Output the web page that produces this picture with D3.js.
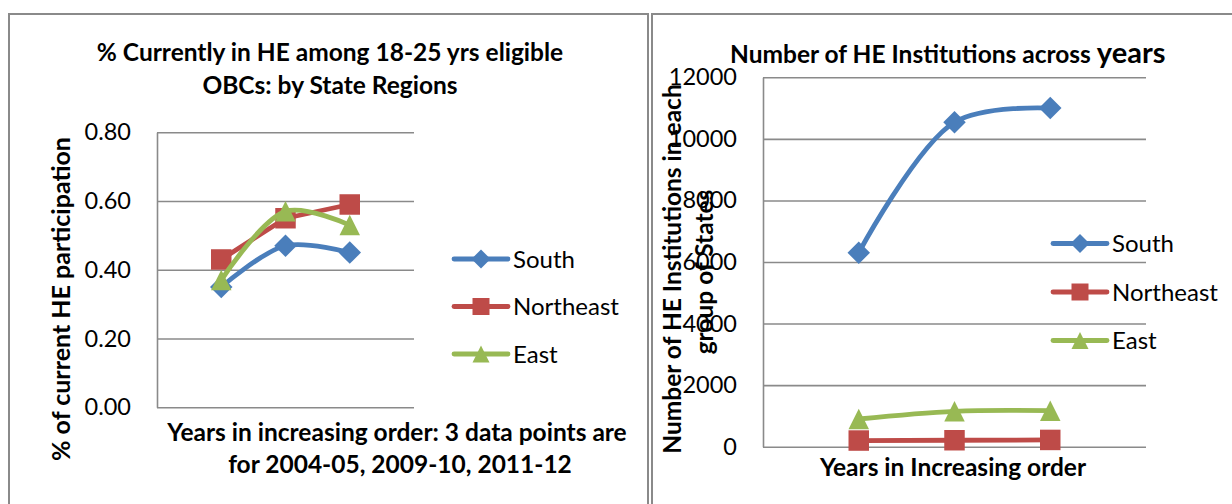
<!DOCTYPE html>
<html>
<head>
<meta charset="utf-8">
<script src="https://cdn.jsdelivr.net/npm/d3@7"></script>
<style>
  html, body { margin: 0; padding: 0; background: #fff; }
  svg { display: block; font-family: Lato, "Open Sans", sans-serif; }
</style>
</head>
<body>
<svg id="chart" width="1232" height="504"></svg>
<script>
// Shared categories and series
const categories = ["2004-05", "2009-10", "2011-12"];
const seriesNames = ["South", "Northeast", "East"];
const seriesColors = ["#4A7EBB", "#BE4B48", "#98B954"];
const seriesSmooth = [true, false, true];
const seriesMarkers = ["diamond", "square", "triangle"];

// % currently in higher education among eligible OBCs aged 18-25
const participationSouth = [0.35, 0.47, 0.45];
const participationNortheast = [0.43, 0.55, 0.59];
const participationEast = [0.37, 0.57, 0.53];
const participationTicks = [0, 0.2, 0.4, 0.6, 0.8];

// Number of higher education institutions per group of states
const institutionsSouth = [6300, 10540, 11000];
const institutionsNortheast = [200, 210, 220];
const institutionsEast = [900, 1150, 1170];
const institutionTicks = [0, 2000, 4000, 6000, 8000, 10000, 12000];

const svg = d3.select("#chart");
const GRID = "#8a8a8a";

// panel frames
svg.append("path")
  .attr("d", "M9,520 L9,14 L648,14 L648,520")
  .attr("fill", "none").attr("stroke", GRID).attr("stroke-width", 2);
svg.append("path")
  .attr("d", "M652,520 L652,14 L1240,14")
  .attr("fill", "none").attr("stroke", GRID).attr("stroke-width", 2);

function markerPath(type, s) {
  const h = s / 2;
  if (type === "diamond") return `M0,${-h - 1}L${h + 1},0L0,${h + 1}L${-h - 1},0Z`;
  if (type === "square") return `M${-h},${-h}H${h}V${h}H${-h}Z`;
  return `M0,${-h}L${h},${h}L${-h},${h}Z`;
}

function drawChart(cfg) {
  const g = svg.append("g");
  const x = d3.scalePoint().domain(categories).range([cfg.x0, cfg.x1]).padding(1);
  const y = d3.scaleLinear().domain(cfg.domain).range([cfg.y1, cfg.y0]);

  const axis = d3.axisLeft(y)
    .tickValues(cfg.ticks)
    .tickFormat(cfg.format)
    .tickSizeInner(-(cfg.x1 - cfg.x0))
    .tickSizeOuter(0)
    .tickPadding(26);
  const ag = g.append("g").attr("transform", `translate(${cfg.x0},0)`).call(axis);
  ag.selectAll("line").attr("stroke", GRID).attr("stroke-width", 1.6);
  ag.select(".domain").attr("stroke", GRID).attr("stroke-width", 1.6);
  ag.selectAll("text")
    .attr("font-family", "Lato, sans-serif")
    .attr("font-size", 23.5)
    .attr("fill", "#000");

  cfg.series.forEach((vals, i) => {
    const line = d3.line()
      .x((d, k) => x(categories[k]))
      .y(d => y(d))
      .curve(seriesSmooth[i] ? d3.curveCatmullRom.alpha(0.5) : d3.curveLinear);
    g.append("path")
      .datum(vals)
      .attr("d", line)
      .attr("fill", "none")
      .attr("stroke", seriesColors[i])
      .attr("stroke-width", 4.8)
      .attr("stroke-linecap", "round")
      .attr("stroke-linejoin", "round");
    g.selectAll(null)
      .data(vals)
      .join("path")
      .attr("transform", (d, k) => `translate(${x(categories[k])},${y(d)})`)
      .attr("d", markerPath(seriesMarkers[i], 20.5))
      .attr("fill", seriesColors[i]);
  });

  // legend
  seriesNames.forEach((name, i) => {
    const ly = cfg.legendY + i * cfg.legendStep;
    const lg = g.append("g").attr("transform", `translate(${cfg.legendX},${ly})`);
    lg.append("line")
      .attr("x1", 0).attr("x2", 54)
      .attr("stroke", seriesColors[i]).attr("stroke-width", 4.8)
      .attr("stroke-linecap", "round");
    lg.append("path")
      .attr("transform", "translate(27,0)")
      .attr("d", markerPath(seriesMarkers[i], 17))
      .attr("fill", seriesColors[i]);
    lg.append("text")
      .attr("x", 59).attr("y", 8.5)
      .attr("font-size", 24)
      .text(name);
  });
  return g;
}

drawChart({
  x0: 157, x1: 414, y0: 132.3, y1: 407.3,
  domain: [0, 0.8], ticks: participationTicks, format: d3.format(".2f"),
  series: [participationSouth, participationNortheast, participationEast],
  legendX: 454, legendY: 259, legendStep: 47.5
});

drawChart({
  x0: 763, x1: 1146, y0: 77.3, y1: 446.7,
  domain: [0, 12000], ticks: institutionTicks, format: d3.format("d"),
  series: [institutionsSouth, institutionsNortheast, institutionsEast],
  legendX: 1053, legendY: 243.5, legendStep: 48.5
});

// titles
const bold = (t) => t.attr("font-weight", "bold").attr("fill", "#000");

bold(svg.append("text").attr("x", 330).attr("y", 61).attr("text-anchor", "middle")
  .attr("font-size", 24.5)).text("% Currently in HE among 18-25 yrs eligible");
bold(svg.append("text").attr("x", 330).attr("y", 94).attr("text-anchor", "middle")
  .attr("font-size", 24.5)).text("OBCs: by State Regions");

const rt = bold(svg.append("text").attr("x", 730).attr("y", 63).attr("font-size", 24.5));
rt.append("tspan").text("Number of HE Institutions across ");
rt.append("tspan").attr("font-size", 29).text("years");

// axis titles
bold(svg.append("text")
  .attr("transform", "translate(70,299) rotate(-90)")
  .attr("text-anchor", "middle").attr("font-size", 25))
  .text("% of current HE participation");

bold(svg.append("text")
  .attr("transform", "translate(681,269) rotate(-90)")
  .attr("text-anchor", "middle").attr("font-size", 24.5))
  .text("Number of HE Institutions in each");
bold(svg.append("text")
  .attr("transform", "translate(713,272) rotate(-90)")
  .attr("text-anchor", "middle").attr("font-size", 24.5))
  .text("group of States");

bold(svg.append("text").attr("x", 397).attr("y", 441).attr("text-anchor", "middle")
  .attr("font-size", 24.5)).text("Years in increasing order: 3 data points are");
bold(svg.append("text").attr("x", 400).attr("y", 473).attr("text-anchor", "middle")
  .attr("font-size", 24.5)).text("for 2004-05, 2009-10, 2011-12");

bold(svg.append("text").attr("x", 953).attr("y", 476).attr("text-anchor", "middle")
  .attr("font-size", 24.5)).text("Years in Increasing order");
</script>
</body>
</html>
